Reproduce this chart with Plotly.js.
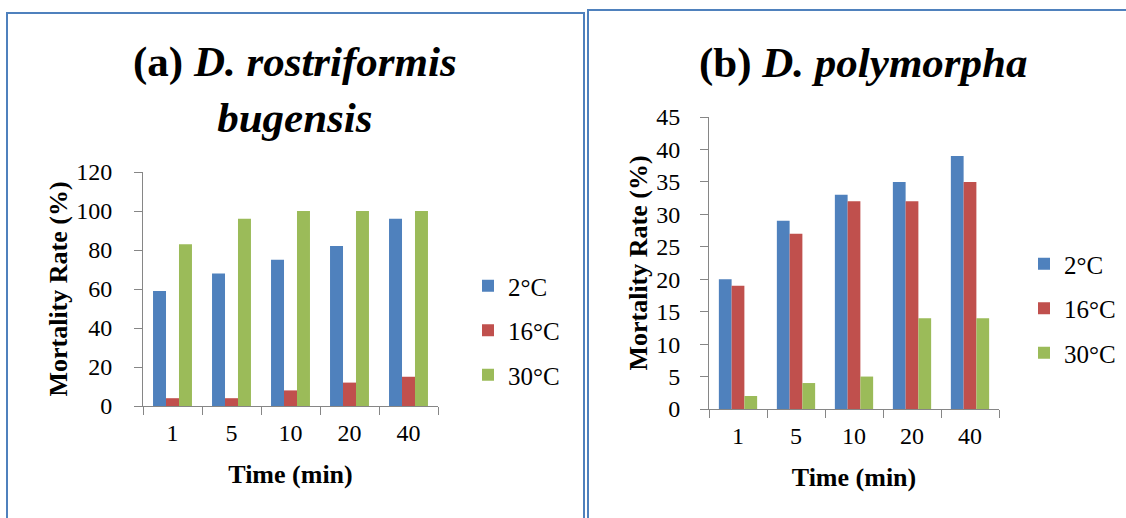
<!DOCTYPE html>
<html>
<head>
<meta charset="utf-8">
<script src="https://cdn.plot.ly/plotly-3.0.1.min.js"></script>
<style>
html,body{margin:0;padding:0;background:#fff;}
#chart{width:1126px;height:518px;}
</style>
</head>
<body>
<div id="chart"></div>
<script>
// Data
const timeCategories = ['1', '5', '10', '20', '40'];
const seriesNames = ['2°C', '16°C', '30°C'];
// (a) D. rostriformis bugensis
const bugensis2C  = [59, 68, 75, 82, 96];
const bugensis16C = [4, 4, 8, 12, 15];
const bugensis30C = [83, 96, 100, 100, 100];
// (b) D. polymorpha
const polymorpha2C  = [20, 29, 33, 35, 39];
const polymorpha16C = [19, 27, 32, 32, 35];
const polymorpha30C = [2, 4, 5, 14, 14];

const colors = ['#4F81BD', '#C0504D', '#9BBB59'];
const W = 1126, H = 518;
const px = v => v / W;
const py = v => 1 - v / H;
const FONT = 'Liberation Serif';

function makeTraces(vals, xa, ya, leg) {
  return vals.map((v, i) => ({
    type: 'bar', x: timeCategories, y: v, name: seriesNames[i],
    xaxis: xa, yaxis: ya, legend: leg, legendgroup: leg + i,
    marker: {color: colors[i], line: {width: 0}},
    hoverinfo: 'skip'
  }));
}

const data = [
  ...makeTraces([bugensis2C, bugensis16C, bugensis30C], 'x', 'y', 'legend'),
  ...makeTraces([polymorpha2C, polymorpha16C, polymorpha30C], 'x2', 'y2', 'legend2')
];

const axisLine = '#868686';
function xAxis(d0, d1, anchor) {
  return {
    domain: [px(d0), px(d1)], anchor: anchor, type: 'category',
    showline: true, linecolor: axisLine, linewidth: 1,
    ticks: 'outside', tickson: 'boundaries', ticklen: 8, tickcolor: axisLine,
    ticklabelstandoff: 5,
    showgrid: false, zeroline: false,
    tickfont: {size: 24},
    title: {text: '<b>Time (min)</b>', font: {size: 26}, standoff: 20}
  };
}
function yAxis(d0, d1, anchor, range, dtick, standoff, lso) {
  return {
    domain: [py(d0), py(d1)], anchor: anchor, range: range, dtick: dtick,
    showline: true, linecolor: axisLine, linewidth: 1,
    ticks: 'outside', ticklen: 8, tickcolor: axisLine,
    ticklabelstandoff: lso,
    showgrid: false, zeroline: false,
    tickfont: {size: 24},
    title: {text: '<b>Mortality Rate (%)</b>', font: {size: 26}, standoff: standoff}
  };
}

const legendBase = {
  font: {size: 25},
  tracegroupgap: 9, itemwidth: 30, bgcolor: 'rgba(0,0,0,0)',
  xanchor: 'left', yanchor: 'top', traceorder: 'grouped'
};

const border = '#4F81BD';
const layout = {
  width: W, height: H,
  margin: {l: 0, r: 0, t: 0, b: 0},
  font: {family: FONT, size: 24, color: '#000000'},
  paper_bgcolor: '#fff', plot_bgcolor: '#fff',
  showlegend: true,
  bargap: 0.34, bargroupgap: 0,
  xaxis: xAxis(143, 438, 'y'),
  yaxis: yAxis(406, 172, 'x', [0, 120], 20, 1, 17),
  xaxis2: xAxis(709, 999, 'y2'),
  yaxis2: yAxis(409, 117, 'x2', [0, 45], 5, 1, 15),
  legend: Object.assign({}, legendBase, {x: px(468), y: py(263)}),
  legend2: Object.assign({}, legendBase, {x: px(1024), y: py(241)}),
  annotations: [
    {xref: 'paper', yref: 'paper', x: px(295), y: py(89), xanchor: 'center', yanchor: 'middle',
     showarrow: false, align: 'center',
     text: '<b>(a) <i>D. rostriformis</i></b><br><b><i>bugensis</i></b>',
     font: {size: 43}},
    {xref: 'paper', yref: 'paper', x: px(863), y: py(63), xanchor: 'center', yanchor: 'middle',
     showarrow: false,
     text: '<b>(b) <i>D. polymorpha</i></b>',
     font: {size: 43}}
  ],
  shapes: [
    {type: 'path', xref: 'paper', yref: 'paper',
     path: `M ${px(7)},-0.1 L ${px(7)},${py(13)} L ${px(584)},${py(13)} L ${px(584)},-0.1`,
     line: {color: border, width: 2}},
    {type: 'path', xref: 'paper', yref: 'paper',
     path: `M ${px(588)},-0.1 L ${px(588)},${py(10)} L 1.1,${py(10)}`,
     line: {color: border, width: 2}}
  ]
};

function draw() {
  Plotly.newPlot('chart', data, layout, {displayModeBar: false, staticPlot: true});
}
if (document.fonts && document.fonts.load) {
  Promise.all([
    document.fonts.load('24px "Liberation Serif"'),
    document.fonts.load('bold 24px "Liberation Serif"'),
    document.fonts.load('italic bold 24px "Liberation Serif"')
  ]).then(draw, draw);
} else {
  draw();
}
</script>
</body>
</html>
